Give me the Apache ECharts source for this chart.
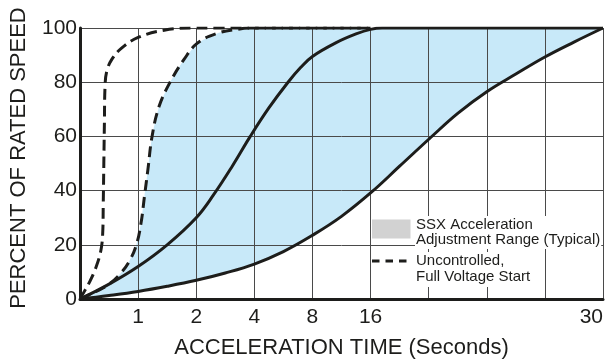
<!DOCTYPE html>
<html>
<head>
<meta charset="utf-8">
<script src="https://cdn.jsdelivr.net/npm/echarts@6/dist/echarts.min.js"></script>
<style>
  html, body { margin: 0; padding: 0; background: #fff; }
  #chart { width: 606px; height: 364px; }
</style>
</head>
<body>
<div id="chart"></div>
<script>
// X positions are in axis divisions; the division ticks carry the time labels below.
const tickPos = [1, 2, 3, 4, 5, 9];
const tickText = ['1', '2', '4', '8', '16', '30'];

// Uncontrolled, full voltage start (fast load)
const fullVoltageFast = [
  [0, 0], [0.08, 3], [0.17, 6.5], [0.28, 12], [0.36, 18], [0.39, 24], [0.40, 35],
  [0.41, 50], [0.42, 65], [0.43, 78], [0.46, 84], [0.55, 88.5], [0.71, 92.5],
  [1.0, 96.5], [1.45, 99.2], [2.0, 100], [5, 100]
];

// Uncontrolled, full voltage start (slow load) - left edge of the adjustment range
const fullVoltageSlow = [
  [0, 0], [0.25, 2.5], [0.5, 5.5], [0.7, 9.5], [0.85, 14], [0.97, 20], [1.05, 28],
  [1.11, 38], [1.17, 48], [1.24, 60], [1.36, 71], [1.55, 80], [1.79, 88.4],
  [2.02, 94.4], [2.36, 98], [2.7, 99.5], [3.0, 100], [5, 100]
];

// SSX acceleration, middle setting
const ssxMid = [
  [0, 0], [0.5, 5.5], [1.0, 12], [1.5, 20], [2.0, 30], [2.3, 38.5], [2.62, 49],
  [2.93, 60], [3.25, 70.5], [3.58, 80], [3.8, 85.5], [4.0, 89.5], [4.4, 94.5],
  [4.75, 97.8], [5.0, 99.5], [5.2, 100], [9, 100]
];

// SSX acceleration, longest setting - bottom edge of the adjustment range
const ssxLong = [
  [0, 0], [0.5, 1.3], [1.0, 2.8], [1.5, 4.7], [2.0, 6.9], [2.5, 9.6], [3.0, 12.9],
  [3.5, 17.5], [4.0, 23.5], [4.5, 30.5], [5.02, 39.5], [5.5, 49], [6.03, 59.5],
  [6.5, 68.5], [7.0, 76.5], [7.5, 83], [8.0, 89.3], [8.5, 94.8], [9, 100]
];

// Shaded adjustment range: slow full-voltage curve out, longest SSX curve back
const rangeOutline = fullVoltageSlow.concat([[9, 100]], ssxLong.slice().reverse());

const FONT = "'Liberation Sans', Arial, Helvetica, sans-serif";
const INK = '#1d1d1b';
const GRID = '#4a4a4a';
const FILL = '#c8e9f9';
const SMOOTH = 0.4;

const chart = echarts.init(document.getElementById('chart'), null, { renderer: 'canvas' });

function curve(name, data, dashed) {
  return {
    type: 'line', name: name, data: data, showSymbol: false, symbol: 'none',
    smooth: SMOOTH,
    lineStyle: { color: INK, width: 3, type: dashed ? [11, 6] : 'solid' }
  };
}

chart.setOption({
  animation: false,
  backgroundColor: '#fff',
  grid: { left: 75, right: 2, top: 28, bottom: 60, containLabel: false },
  xAxis: {
    type: 'value', min: 0, max: 9, interval: 1,
    name: 'ACCELERATION TIME (Seconds)',
    nameLocation: 'middle', nameGap: 38,
    nameTextStyle: { fontFamily: FONT, fontSize: 22, color: INK },
    axisLine: { show: true, onZero: false, lineStyle: { color: INK, width: 3 } },
    axisTick: { show: false },
    axisLabel: {
      fontFamily: FONT, fontSize: 21, color: INK, margin: 8,
      alignMaxLabel: 'right', showMaxLabel: true, showMinLabel: true,
      formatter: function (v) {
        const i = tickPos.indexOf(Math.round(v));
        return i >= 0 ? tickText[i] : '';
      }
    },
    splitLine: { show: true, lineStyle: { color: GRID, width: 1 } }
  },
  yAxis: {
    type: 'value', min: 0, max: 100, interval: 20,
    name: 'PERCENT OF RATED SPEED',
    nameLocation: 'middle', nameGap: 50,
    nameTextStyle: { fontFamily: FONT, fontSize: 22, color: INK, padding: [0, 0, 0, 11] },
    axisLine: { show: true, onZero: false, lineStyle: { color: INK, width: 3 } },
    axisTick: { show: false },
    axisLabel: { fontFamily: FONT, fontSize: 21, color: INK, margin: 3 },
    splitLine: { show: true, lineStyle: { color: GRID, width: 1 } }
  },
  series: [
    {
      type: 'custom',
      name: 'range',
      z: -1,
      silent: true,
      data: rangeOutline,
      renderItem: function (params, api) {
        if (params.dataIndex !== 0) return null;
        const pts = rangeOutline.map(function (p) { return api.coord(p); });
        return { type: 'polygon', shape: { points: pts, smooth: 0.15 }, style: { fill: FILL } };
      }
    },
    curve('ssxLong', ssxLong, false),
    curve('ssxMid', ssxMid, false),
    curve('fullVoltageSlow', fullVoltageSlow, true),
    curve('fullVoltageFast', fullVoltageFast, true)
  ],
  graphic: [
    {
      type: 'rect', z: 100,
      shape: { x: 372, y: 219.5, width: 38.5, height: 19 },
      style: { fill: '#d2d2d2' }
    },
    {
      type: 'text', z: 100, left: 415, top: 216,
      style: {
        text: 'SSX Acceleration\nAdjustment Range (Typical)',
        font: '15px ' + FONT, fill: INK, lineHeight: 14.5,
        backgroundColor: '#fff', padding: [2, 1, 2, 1]
      }
    },
    {
      type: 'line', z: 100,
      shape: { x1: 372, y1: 261, x2: 407, y2: 261 },
      style: { stroke: INK, lineWidth: 3, lineDash: [7.5, 6] }
    },
    {
      type: 'text', z: 100, left: 415, top: 252,
      style: {
        text: 'Uncontrolled,\nFull Voltage Start',
        font: '15px ' + FONT, fill: INK, lineHeight: 16,
        backgroundColor: '#fff', padding: [1, 1, 2, 1]
      }
    }
  ]
});
</script>
</body>
</html>
